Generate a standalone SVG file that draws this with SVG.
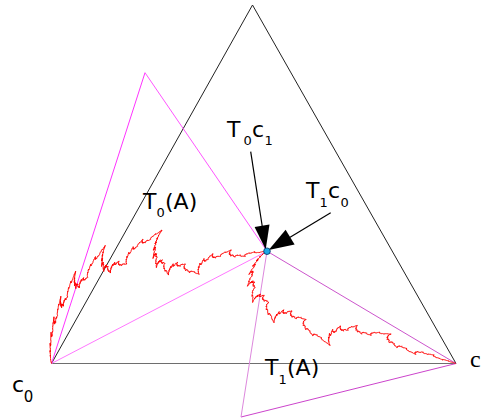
<svg xmlns="http://www.w3.org/2000/svg" width="483" height="420" viewBox="0 0 483 420">
<style>
.lbl{font-family:"DejaVu Sans",sans-serif;font-size:22px;fill:#000}
.sub{font-size:13px}
.crv{fill:none;stroke:#ff0000;stroke-width:1;vector-effect:non-scaling-stroke}
.ln{fill:none;stroke-width:1}
.head{fill:#000;stroke:none}
.shaft{stroke:#000;stroke-width:1.2}
</style>
<defs>
<path id="L0" class="crv" d="M51.5,363.5H456"/>
<g id="L1"><use href="#L0" transform="matrix(0.532757,-0.277627,0.037891,0.655501,10.290,139.523)"/><use href="#L0" transform="matrix(0.467244,0.277627,0.334493,-0.306826,121.349,348.433)"/></g>
<g id="L2"><use href="#L1" transform="matrix(0.532757,-0.277627,0.037891,0.655501,10.290,139.523)"/><use href="#L1" transform="matrix(0.467244,0.277627,0.334493,-0.306826,121.349,348.433)"/></g>
<g id="L3"><use href="#L2" transform="matrix(0.532757,-0.277627,0.037891,0.655501,10.290,139.523)"/><use href="#L2" transform="matrix(0.467244,0.277627,0.334493,-0.306826,121.349,348.433)"/></g>
<g id="L4"><use href="#L3" transform="matrix(0.532757,-0.277627,0.037891,0.655501,10.290,139.523)"/><use href="#L3" transform="matrix(0.467244,0.277627,0.334493,-0.306826,121.349,348.433)"/></g>
<g id="L5"><use href="#L4" transform="matrix(0.532757,-0.277627,0.037891,0.655501,10.290,139.523)"/><use href="#L4" transform="matrix(0.467244,0.277627,0.334493,-0.306826,121.349,348.433)"/></g>
<g id="L6"><use href="#L5" transform="matrix(0.532757,-0.277627,0.037891,0.655501,10.290,139.523)"/><use href="#L5" transform="matrix(0.467244,0.277627,0.334493,-0.306826,121.349,348.433)"/></g>
<g id="L7"><use href="#L6" transform="matrix(0.532757,-0.277627,0.037891,0.655501,10.290,139.523)"/><use href="#L6" transform="matrix(0.467244,0.277627,0.334493,-0.306826,121.349,348.433)"/></g>
<g id="L8"><use href="#L7" transform="matrix(0.532757,-0.277627,0.037891,0.655501,10.290,139.523)"/><use href="#L7" transform="matrix(0.467244,0.277627,0.334493,-0.306826,121.349,348.433)"/></g>
<g id="L9"><use href="#L8" transform="matrix(0.532757,-0.277627,0.037891,0.655501,10.290,139.523)"/><use href="#L8" transform="matrix(0.467244,0.277627,0.334493,-0.306826,121.349,348.433)"/></g>
<g id="L10"><use href="#L9" transform="matrix(0.532757,-0.277627,0.037891,0.655501,10.290,139.523)"/><use href="#L9" transform="matrix(0.467244,0.277627,0.334493,-0.306826,121.349,348.433)"/></g>
<g id="L11"><use href="#L10" transform="matrix(0.532757,-0.277627,0.037891,0.655501,10.290,139.523)"/><use href="#L10" transform="matrix(0.467244,0.277627,0.334493,-0.306826,121.349,348.433)"/></g>
<g id="L12"><use href="#L11" transform="matrix(0.532757,-0.277627,0.037891,0.655501,10.290,139.523)"/><use href="#L11" transform="matrix(0.467244,0.277627,0.334493,-0.306826,121.349,348.433)"/></g>
</defs>
<rect width="483" height="420" fill="#fff"/>
<g id="triangle-A">
<line class="ln" stroke="#222" x1="51.5" y1="363.5" x2="252.5" y2="5"/>
<line class="ln" stroke="#222" x1="252.5" y1="5" x2="456" y2="363.5"/>
<line class="ln" stroke="#6e6e6e" stroke-width="2" x1="51.5" y1="363.5" x2="456" y2="363.5"/>
</g>
<g id="triangle-T0">
<line class="ln" stroke="#ff33ff" x1="51.5" y1="363.5" x2="145" y2="72.7"/>
<line class="ln" stroke="#ff55ff" x1="145" y1="72.7" x2="267" y2="251.2"/>
<line class="ln" stroke="#ff77ff" stroke-width="1.5" x1="51.5" y1="363.5" x2="267" y2="251.2"/>
</g>
<g id="triangle-T1">
<line class="ln" stroke="#cc55cc" x1="267" y1="251.2" x2="456" y2="363.5"/>
<line class="ln" stroke="#cc44cc" x1="456" y1="363.5" x2="241" y2="417"/>
<line class="ln" stroke="#dd88dd" stroke-width="1.8" x1="241" y1="417" x2="267" y2="251.2"/>
</g>
<g id="curve-A">
<use href="#L12"/>
</g>
<g id="connectors">
<line class="shaft" x1="250.7" y1="151.7" x2="262.5" y2="228"/>
<polygon class="head" points="265.7,249.5 269.5,224.6 254.6,226.9"/>
<line class="shaft" x1="330.7" y1="212.7" x2="288" y2="238.5"/>
<polygon class="head" points="268.7,250 294.6,244.4 285.6,229.8"/>
</g>
<g id="fixed-point">
<circle cx="267" cy="251.2" r="3.3" fill="#1ea8e6" stroke="#003060" stroke-width="0.8"/>
</g>
<g id="label-c0">
<text class="lbl" font-size="21"><tspan x="12" y="392">c</tspan><tspan x="23.8" y="401.5" font-size="15">0</tspan></text>
</g>
<g id="label-T0c1">
<text class="lbl"><tspan x="227" y="137">T</tspan><tspan x="243.5" y="145" class="sub">0</tspan><tspan x="252" y="137">c</tspan><tspan x="264.5" y="145" class="sub">1</tspan></text>
</g>
<g id="label-T1c0">
<text class="lbl"><tspan x="306" y="197.5">T</tspan><tspan x="319.5" y="206.5" class="sub">1</tspan><tspan x="328" y="197.5">c</tspan><tspan x="340.5" y="206.5" class="sub">0</tspan></text>
</g>
<g id="label-T0A">
<text class="lbl"><tspan x="143" y="208.5">T</tspan><tspan x="156.5" y="216.5" class="sub">0</tspan><tspan x="165" y="208.5">(A)</tspan></text>
</g>
<g id="label-T1A">
<text class="lbl"><tspan x="265" y="375">T</tspan><tspan x="278.5" y="383.5" class="sub">1</tspan><tspan x="287" y="375">(A)</tspan></text>
</g>
<g id="label-c1">
<text x="470" y="367" font-family="'Liberation Serif',serif" font-size="24" fill="#000">c</text>
</g>
</svg>
